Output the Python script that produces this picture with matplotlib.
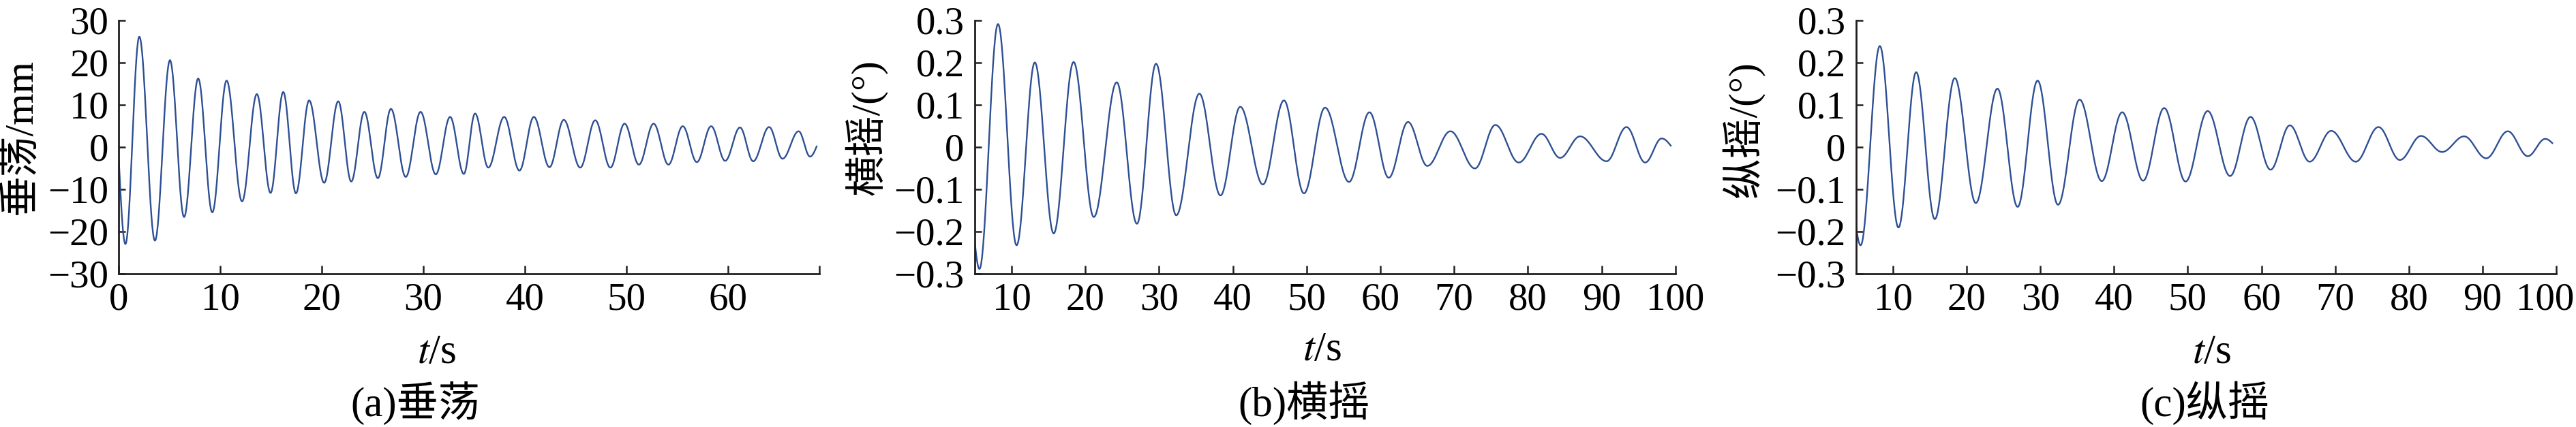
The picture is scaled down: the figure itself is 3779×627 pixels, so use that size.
import numpy as np
import matplotlib
matplotlib.use("Agg")
import matplotlib.pyplot as plt
import matplotlib.transforms as mtransforms

plt.rcParams['font.family'] = ['Liberation Serif', 'Noto Sans CJK SC']
plt.rcParams['mathtext.fontset'] = 'stix'

# turning points: time (s) and value
heave_t = [0.0, 0.65, 2.02, 3.56, 5.04, 6.43, 7.82, 9.21, 10.62, 12.14, 13.6, 14.95,
           16.2, 17.45, 18.75, 20.23, 21.62, 22.9, 24.19, 25.52, 26.81, 28.27, 29.73,
           31.23, 32.64, 33.99, 35.1, 36.4, 37.97, 39.47, 40.89, 42.43, 43.84, 45.46,
           46.94, 48.43, 49.83, 51.24, 52.69, 54.15, 55.56, 56.95, 58.36, 59.74, 61.2,
           62.5, 64.07, 65.39, 66.98, 68.1, 68.75]
heave_v = [-3.1, -23.0, 26.1, -22.2, 20.5, -16.6, 16.2, -15.5, 15.7, -12.9, 12.5, -10.9,
           13.0, -11.0, 11.0, -8.5, 10.8, -8.2, 8.3, -7.4, 9.0, -7.1, 8.3,
           -6.5, 7.1, -6.4, 7.9, -4.9, 7.1, -5.6, 7.1, -4.8, 6.4, -4.9,
           6.3, -4.9, 5.5, -4.2, 5.5, -4.2, 4.9, -3.6, 4.9, -3.3, 4.6,
           -3.4, 4.7, -2.8, 3.7, -2.3, 0.1]

roll_t = [5.0, 5.63, 8.15, 10.67, 13.14, 15.7, 18.4, 21.14, 24.25, 26.99, 29.58, 32.32,
          35.46, 38.32, 41.0, 44.07, 46.93, 49.64, 52.5, 55.75, 58.52, 61.14, 63.75,
          66.37, 69.5, 72.83, 75.6, 78.77, 81.85, 84.37, 87.08, 90.68, 93.38, 95.91,
          98.15, 99.38]
roll_v = [-0.227, -0.289, 0.291, -0.233, 0.200, -0.205, 0.201, -0.166, 0.153, -0.182,
          0.197, -0.162, 0.126, -0.115, 0.095, -0.089, 0.110, -0.110, 0.093, -0.083,
          0.082, -0.073, 0.059, -0.045, 0.037, -0.051, 0.052, -0.037, 0.031, -0.026,
          0.025, -0.034, 0.047, -0.037, 0.020, 0.003]

pitch_t = [4.98, 5.6, 8.21, 10.74, 13.14, 15.67, 18.38, 21.24, 24.17, 26.91, 29.62, 32.39,
           35.32, 38.33, 41.1, 43.94, 46.8, 49.7, 52.7, 55.74, 58.52, 61.23, 63.85,
           66.54, 69.47, 72.8, 75.88, 78.78, 81.65, 84.51, 87.5, 90.5, 93.43, 96.14,
           98.51, 99.47]
pitch_v = [-0.19, -0.233, 0.239, -0.191, 0.177, -0.171, 0.163, -0.133, 0.138, -0.142,
           0.157, -0.137, 0.112, -0.081, 0.082, -0.080, 0.092, -0.082, 0.085, -0.069,
           0.071, -0.054, 0.051, -0.035, 0.038, -0.035, 0.047, -0.031, 0.026, -0.012,
           0.025, -0.027, 0.037, -0.022, 0.019, 0.009]

ylabels = ["垂荡/mm", "横摇/(°)", "纵摇/(°)"]
captions = ["(a)垂荡", "(b)横摇", "(c)纵摇"]

LINE_COLOR = "#2d4f93"
AX_COLOR = "#231f20"
W, H = 3780, 627


def trace(t_pts, v_pts, n=40):
    # smooth swing between consecutive turning points
    ts, vs = [], []
    last = len(t_pts) - 2
    s = np.linspace(0, 1, n)
    for i in range(len(t_pts) - 1):
        t0, t1 = t_pts[i], t_pts[i + 1]
        v0, v1 = v_pts[i], v_pts[i + 1]
        if i == 0:
            w = np.sin(np.pi / 2 * s)
        elif i == last:
            w = 1 - np.cos(np.pi / 2 * s)
        else:
            w = (1 - np.cos(np.pi * s)) / 2
        ts.append(t0 + (t1 - t0) * s)
        vs.append(v0 + (v1 - v0) * w)
    return np.concatenate(ts), np.concatenate(vs)


def style_axes(ax):
    for side in ["top", "right"]:
        ax.spines[side].set_visible(False)
    for side in ["left", "bottom"]:
        ax.spines[side].set_linewidth(2.0)
        ax.spines[side].set_color(AX_COLOR)
    ax.tick_params(axis="both", which="both", direction="in", width=1.8,
                   color=AX_COLOR, labelsize=41)
    ax.tick_params(axis="y", length=7, pad=11)
    ax.tick_params(axis="x", which="both", length=8.5, pad=9)


fig = plt.figure(figsize=(W / 100, H / 100), dpi=100)

bottom = 1 - 401.7 / H
height = 372 / H
lefts = [174.3, 1430, 2723]
widths = [1027.4, 1027.7, 1027]
series = [(heave_t, heave_v), (roll_t, roll_v), (pitch_t, pitch_v)]

axes = []
for i in range(3):
    ax = fig.add_axes([lefts[i] / W, bottom, widths[i] / W, height])
    t, v = trace(*series[i])
    ax.plot(t, v, color=LINE_COLOR, lw=1.7)
    style_axes(ax)
    axes.append(ax)

ax = axes[0]
ax.set_xlim(0, 69)
ax.set_ylim(-30, 30)
ax.set_xticks(range(0, 70, 10))
ax.set_xticks([69], minor=True)
ax.set_yticks(range(-30, 31, 10))
ax.set_yticklabels(["−30", "−20", "−10", "0", "10", "20", "30"])

for ax in axes[1:]:
    ax.set_xlim(5, 100)
    ax.set_ylim(-0.3, 0.3)
    ax.set_xticks(range(10, 101, 10))
    ax.set_yticks([-0.3, -0.2, -0.1, 0, 0.1, 0.2, 0.3])
    ax.set_yticklabels(["−0.3", "−0.2", "−0.1", "0", "0.1", "0.2", "0.3"])

# last label of the right panel sits a little left so it stays inside the figure
lab = axes[2].get_xticklabels()[-1]
lab.set_transform(lab.get_transform() +
                  mtransforms.ScaledTranslation(-0.16, 0, fig.dpi_scale_trans))

# y labels, x labels and captions placed as in the original layout
ylab_pos = [(31, 201), (1270, 187), (2557, 190)]
xlab_pos = [(641, 518), (1940, 514), (3245, 518)]
cap_pos = [(609, 592), (1913, 592), (3234, 592)]
for i in range(3):
    x, y = ylab_pos[i]
    fig.text(x / W, 1 - y / H, ylabels[i], rotation=90, fontsize=43,
             ha="center", va="center")
    x, y = xlab_pos[i]
    fig.text(x / W, 1 - y / H, r"$t$/s", fontsize=44, ha="center", va="center")
    x, y = cap_pos[i]
    fig.text(x / W, 1 - y / H, captions[i], fontsize=44, ha="center", va="center")

fig.savefig("out.png", dpi=100)
